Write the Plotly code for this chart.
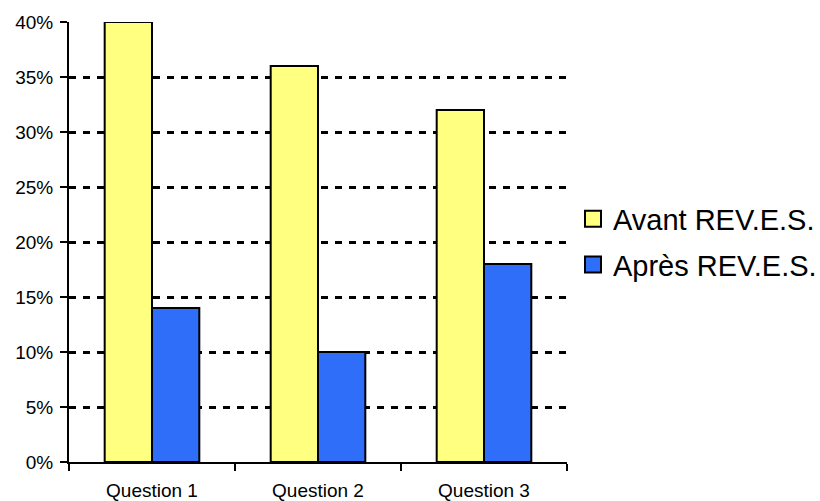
import plotly.graph_objects as go

questions = ['Question 1', 'Question 2', 'Question 3']
avant = [0.40, 0.36, 0.32]
apres = [0.14, 0.10, 0.18]
series_names = ['Avant REV.E.S.', 'Après REV.E.S.']
y_ticks = [0, 0.05, 0.10, 0.15, 0.20, 0.25, 0.30, 0.35, 0.40]

yellow = '#FFFF80'
blue = '#2E6EF8'
font = 'Liberation Sans, Arial, sans-serif'

fig = go.Figure()
for name, vals, col in [(series_names[0], avant, yellow), (series_names[1], apres, blue)]:
    fig.add_trace(go.Bar(
        x=questions, y=vals, name=name,
        marker=dict(color=col, line=dict(color='black', width=2)),
        showlegend=False,
    ))
    # legend entry with a bigger square
    fig.add_trace(go.Scatter(
        x=[None], y=[None], mode='markers', name=name, legendgroup=name,
        marker=dict(symbol='square', size=16, color=col, line=dict(color='black', width=2)),
    ))

fig.update_layout(
    width=820, height=501,
    margin=dict(l=69, r=253, t=22, b=39, autoexpand=False),
    paper_bgcolor='white', plot_bgcolor='white',
    barmode='group', bargap=0.43, bargroupgap=0,
    font=dict(family=font, color='black', size=19),
    legend=dict(
        x=1.012, y=0.5, xanchor='left', yanchor='middle',
        font=dict(size=29, family=font),
        itemsizing='trace', bgcolor='rgba(0,0,0,0)',
        traceorder='grouped', tracegroupgap=5,
    ),
)
fig.update_xaxes(
    showline=True, linecolor='black', linewidth=2,
    ticks='outside', tickson='boundaries', ticklen=7, tickwidth=2, tickcolor='black',
    showgrid=False, ticklabelstandoff=10, automargin=False,
)
fig.update_yaxes(
    range=[0, 0.4], tickvals=y_ticks, tickformat='.0%',
    showline=True, linecolor='black', linewidth=2,
    ticks='outside', ticklen=7, tickwidth=2, tickcolor='black',
    showgrid=True, gridcolor='black', gridwidth=2.5, griddash='7px,7px',
    zeroline=False, ticklabelstandoff=3, automargin=False,
)

# no default page margin, so the figure fills the window exactly
fig.write_html('out.html', config={'displayModeBar': False},
               post_script="document.body.style.margin='0';")
